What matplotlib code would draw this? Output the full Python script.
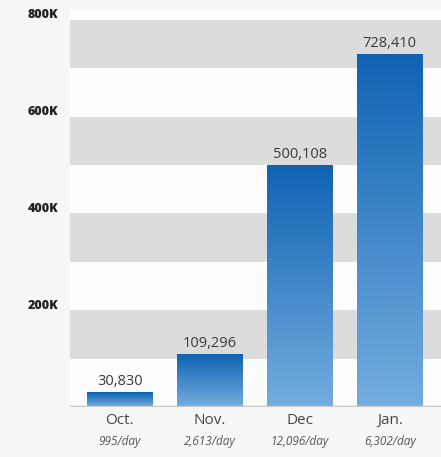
import matplotlib.pyplot as plt
import numpy as np
from matplotlib.colors import LinearSegmentedColormap

months = ['Oct.', 'Nov.', 'Dec', 'Jan.']
per_day = ['995/day', '2,613/day', '12,096/day', '6,302/day']
totals = [30830, 109296, 500108, 728410]
ticks = [200000, 400000, 600000, 800000]
tick_labels = ['200K', '400K', '600K', '800K']

plt.rcParams['font.family'] = ['Open Sans', 'DejaVu Sans']

fig = plt.figure(figsize=(4.41, 4.57), dpi=100, facecolor='#f7f7f7')
ax = fig.add_axes([0.159, 0.109, 0.841, 0.869])
ax.set_facecolor('#fdfdfd')
ax.set_xlim(-0.55, 3.57)
ax.set_ylim(0, 820000)

# alternating gray bands every 100K
for lo in range(100000, 800000, 200000):
    ax.axhspan(lo, lo + 100000, color='#dcdcdc', lw=0, zorder=0)

blues = LinearSegmentedColormap.from_list('bar', ['#0f63b3', '#74addf'])
grad = np.linspace(0, 1, 256).reshape(-1, 1)
width = 0.73
x = np.arange(len(months))
bars = ax.bar(x, totals, width=width, color='none', zorder=2)
for bar, val in zip(bars, totals):
    x0 = bar.get_x()
    im = ax.imshow(grad, cmap=blues, aspect='auto', zorder=2,
                   extent=[x0, x0 + width, 0, val])
    im.set_clip_path(bar)
    ax.text(bar.get_x() + width / 2, val + 7000, f'{val:,}', ha='center',
            va='bottom', fontsize=10.5, color='#3a3a3a', zorder=3)

ax.axhline(0, color='#c8c8c8', lw=2.5, zorder=3)

for xi, m, d in zip(x, months, per_day):
    ax.text(xi, -11000, m, ha='center', va='top', fontsize=11, color='#444444')
    ax.text(xi, -57000, d, ha='center', va='top', fontsize=8.5, color='#555555',
            style='italic')

for t, lab in zip(ticks, tick_labels):
    ax.text(-0.68, t + 9000, lab, ha='right', va='center', fontsize=9,
            fontweight='heavy', color='#222222')

ax.set_xticks([])
ax.set_yticks([])
for s in ax.spines.values():
    s.set_visible(False)

fig.savefig('out.png', dpi=100, facecolor=fig.get_facecolor())
